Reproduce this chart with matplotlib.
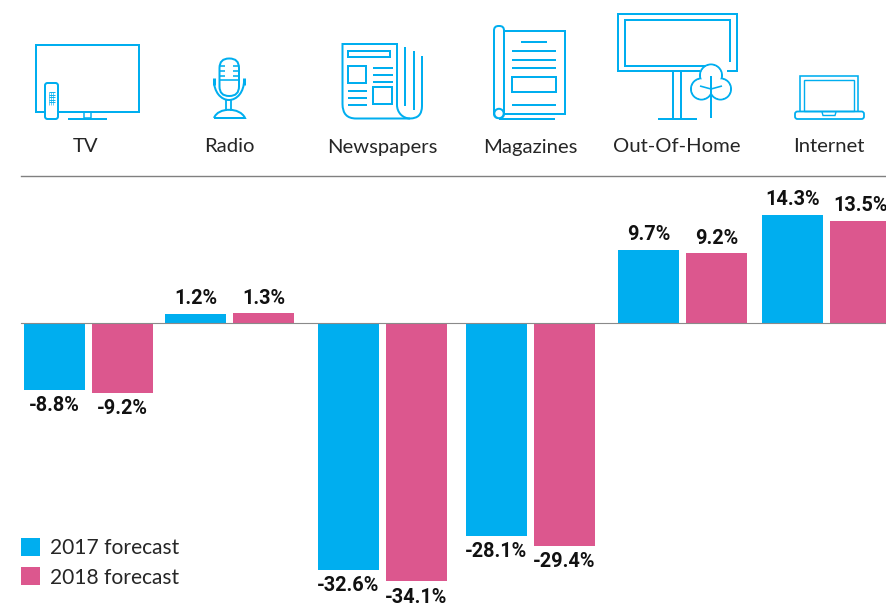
import matplotlib
matplotlib.use("Agg")
import matplotlib.pyplot as plt
import numpy as np
from matplotlib.patches import Rectangle, FancyBboxPatch, Circle, Arc, PathPatch
from matplotlib.path import Path

categories = ["TV", "Radio", "Newspapers", "Magazines", "Out-Of-Home", "Internet"]
forecast_2017 = [-8.8, 1.2, -32.6, -28.1, 9.7, 14.3]
forecast_2018 = [-9.2, 1.3, -34.1, -29.4, 9.2, 13.5]
series_names = ["2017 forecast", "2018 forecast"]

BLUE = "#00AEEF"
PINK = "#DC578E"
W, H = 887, 607
group_x = [88.5, 229.5, 382.5, 530.5, 682.5, 827]
label_x = [86, 229, 382, 530, 677, 829]
NUM_FONT = ["Roboto", "DejaVu Sans"]
TXT_FONT = ["Lato", "DejaVu Sans"]
TXT = "#262626"

fig = plt.figure(figsize=(W / 100, H / 100), dpi=100, facecolor="white")
ax = fig.add_axes([0, 0, 1, 1])
scale = 7.57
ax.set_xlim(0, W)
ax.set_ylim(-(H - 323) / scale, 323 / scale)
ax.axis("off")

bw, off = 61, 34
for i, (a, b) in enumerate(zip(forecast_2017, forecast_2018)):
    for dx, v, c in ((-off, a, BLUE), (off, b, PINK)):
        x = group_x[i] + dx
        ax.bar(x, v, width=bw, color=c, zorder=2)
        ax.annotate(f"{v:.1f}%", (x, v),
                    xytext=(0, 15 if v > 0 else -16), textcoords="offset pixels",
                    ha="center", va="center", fontsize=14.3, fontweight="bold",
                    family=NUM_FONT, color="#111111", annotation_clip=False, zorder=4)
ax.plot([21, W], [0, 0], color="#8a8a8a", lw=0.8, zorder=3)

# overlay in pixel coordinates: icons, separator, legend, category names
ov = fig.add_axes([0, 0, 1, 1], facecolor="none")
ov.set_xlim(0, W)
ov.set_ylim(H, 0)
ov.axis("off")
K = 0.72
LW = 2.0

def line(xs, ys, lw=LW, z=5, color=BLUE):
    ov.plot(xs, ys, color=color, lw=lw * K, solid_capstyle="butt", solid_joinstyle="miter", zorder=z)

def rect(x0, y0, x1, y1, lw=LW, z=5, fc="none"):
    ov.add_patch(Rectangle((x0, y0), x1 - x0, y1 - y0, fc=fc, ec=BLUE, lw=lw * K, zorder=z))

def rrect(x0, y0, x1, y1, r=2, lw=LW, z=5, fc="none"):
    ov.add_patch(FancyBboxPatch((x0 + r, y0 + r), x1 - x0 - 2 * r, y1 - y0 - 2 * r,
                                boxstyle=f"round,pad={r},rounding_size={r}",
                                fc=fc, ec=BLUE, lw=lw * K, zorder=z))

def arc(cx, cy, w, h, t1, t2, lw=LW, z=5):
    ov.add_patch(Arc((cx, cy), w, h, theta1=t1, theta2=t2, ec=BLUE, lw=lw * K, zorder=z))

# TV
rect(36, 44.5, 139, 112)
line([68, 107], [119, 119])
rect(84, 112, 91, 118, lw=1.5)
rrect(45, 83, 58, 119, r=2.5, fc="white", z=6)
for yy in np.arange(92, 105, 2.6):
    line([49, 55], [yy, yy], lw=0.9, z=7)
for xx in np.arange(49.5, 55.5, 2):
    line([xx, xx], [92, 104.5], lw=0.6, z=7)

# Radio
rrect(219.5, 58.5, 239, 96, r=9.5, lw=2)
for yy in (66, 71, 76):
    line([219.5, 225], [yy, yy], lw=1.6)
    line([233.5, 239], [yy, yy], lw=1.6)
line([219.5, 239], [80, 80], lw=1.6)
arc(229, 81, 30, 38, 0, 180, lw=2)
line([214, 214], [78, 85], lw=3)
line([244, 244], [78, 85], lw=3)
line([226.5, 226.5], [100, 111], lw=1.8)
line([231.5, 231.5], [100, 111], lw=1.8)
ov.add_patch(PathPatch(Path([(214, 118), (218, 107), (240, 107), (245, 118), (214, 118)],
                            [Path.MOVETO, Path.CURVE4, Path.CURVE4, Path.CURVE4, Path.LINETO]),
                       fc="none", ec=BLUE, lw=2 * K, zorder=5))

# Newspapers
ov.add_patch(PathPatch(Path([(397, 105), (397, 44), (342.5, 44), (342.5, 104), (342.5, 118.5), (356, 118.5),
                             (410, 118.5), (422, 118.5), (422, 106), (422, 56)],
                            [Path.MOVETO, Path.LINETO, Path.LINETO, Path.LINETO, Path.CURVE3, Path.CURVE3,
                             Path.LINETO, Path.CURVE3, Path.CURVE3, Path.LINETO]),
                       fc="none", ec=BLUE, lw=LW * K, zorder=5))
arc(410, 105, 26, 27, 90, 180)
line([405.5, 405.5], [47, 106])
line([414, 414], [51, 110])
rect(348.5, 51, 390, 57)
rect(348.5, 66, 366, 83)
rect(373.5, 87, 392.5, 104)
for yy in (68, 75, 82):
    line([373, 393], [yy, yy])
for yy in (90.5, 97.5, 104.5):
    line([348, 367], [yy, yy])

# Magazines
rect(504, 31, 565, 114)
rrect(494, 26, 504, 118, r=4.5, fc="white", z=6)
ov.add_patch(Circle((499, 113.5), 4.7, fc="white", ec=BLUE, lw=LW * K, zorder=7))
line([499, 555], [118.5, 118.5], z=8)
line([521, 547], [42, 42])
for yy in (51, 59.5, 68, 105):
    line([512, 556], [yy, yy])
rect(512, 77, 556, 92)

# Out-of-Home
line([700, 618.5, 618.5, 737, 737, 727], [71, 71, 13.5, 13.5, 71, 71])
line([706, 625, 625, 730.5, 730.5], [66, 66, 19.5, 19.5, 62])
line([673, 673], [72, 118])
line([681.5, 681.5], [72, 118])
line([658, 697], [118.5, 118.5])
cloud = [((711, 75.5), 11), ((701.5, 89), 10.5), ((720.5, 89), 10.5)]
for c, r in cloud:
    ov.add_patch(Circle(c, r, fc="white", ec=BLUE, lw=LW * K, zorder=6))
for c, r in cloud + [((711, 85), 9)]:
    ov.add_patch(Circle(c, r - 1, fc="white", ec="none", zorder=7))
line([711, 711], [76, 118], z=8)
line([700, 711, 722], [86, 89, 86], lw=1.6, z=8)

# Internet
ov.add_patch(PathPatch(Path([(800.5, 111), (800.5, 75.5), (858, 75.5), (858, 111)]),
                       fc="none", ec=BLUE, lw=1.6 * K, zorder=5))
rect(804.5, 79.5, 854, 111, lw=1.4)
rrect(795, 111.5, 864, 119, r=2.5, lw=1.8)
line([822, 823, 835, 836], [112, 115.5, 115.5, 112], lw=1.4)

# Category labels and separator
for name, x in zip(categories, label_x):
    ov.text(x, 147, name, ha="center", va="center", fontsize=14.6, family=TXT_FONT, color=TXT)
ov.plot([21, W], [175.5, 175.5], color="#808080", lw=1.0)

# Legend
for name, c, y, ty in zip(series_names, (BLUE, PINK), (547, 576), (548, 578.5)):
    ov.add_patch(Rectangle((21, y - 9), 19, 18, fc=c, ec="none"))
    ov.text(50, ty, name, ha="left", va="center", fontsize=15.1, family=TXT_FONT, color=TXT)

fig.savefig("out.png", dpi=100)
